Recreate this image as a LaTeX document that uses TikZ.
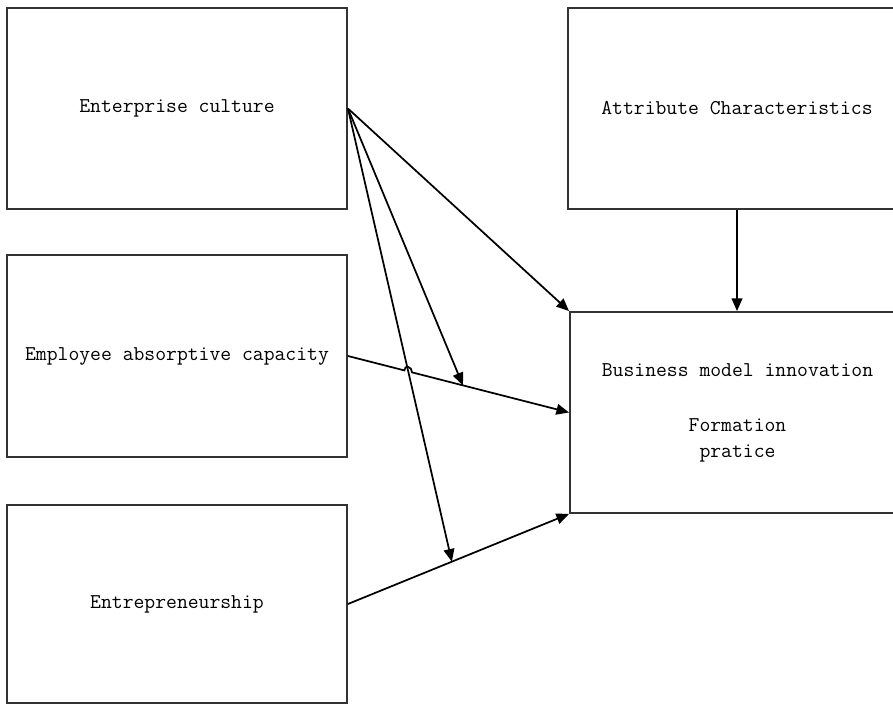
\documentclass[tikz,border=0pt]{standalone}
\usepackage{fontspec}
\usepackage{tikz}
\usetikzlibrary{arrows.meta,calc,intersections}

\begin{document}
\begin{tikzpicture}[x=0.75pt,y=-0.75pt,
  box/.style={draw=black!80, line width=1.4pt, inner sep=0pt, align=center,
    font=\ttfamily\fontsize{15.8}{19.5}\selectfont},
  link/.style={line width=1.3pt, -{Triangle[length=9.5pt,width=8pt]}}]
\useasboundingbox (0,0) rectangle (893,705);

% Draw the boxes
\node[box, minimum width=255pt, minimum height=150.75pt] (culture) at (177,108.5) {Enterprise culture};
\node[box, minimum width=253.5pt, minimum height=150.75pt] (attrib) at (737,108.5) {Attribute Characteristics};
\node[box, minimum width=255pt, minimum height=151.5pt] (absorb) at (177,356) {Employee absorptive capacity};
\node[box, minimum width=255pt, minimum height=148.5pt] (entre) at (177,604) {Entrepreneurship};
\node[box, minimum width=251.25pt, minimum height=150.75pt] (bmi) at (737.5,412.5)
  {Business model innovation\\[21.75pt]Formation\\pratice};

% Points where the moderating arrows land
\path (absorb.east) -- (bmi.west) coordinate[pos=0.52] (h1);
\path (entre.east) -- (bmi.south west) coordinate[pos=0.47] (h2);

% Crossing of the long arrow with the middle line
\path[name path=cross] (culture.east) -- (h2);
\path[name path=mid] (absorb.east) -- (bmi.west);
\path[name intersections={of=cross and mid, by=X}];

% Draw the arrows
\draw[link] (culture.east) -- (bmi.north west);
\draw[link] (culture.east) -- (h1);
\draw[link] (culture.east) -- (h2);
\draw[link] (absorb.east) -- ($(X)!3pt!(absorb.east)$)
  .. controls +(0,-6) and +(0,-6) .. ($(X)!3pt!(bmi.west)$) -- (bmi.west);
\draw[link] (entre.east) -- (bmi.south west);
\draw[link] (attrib.south) -- (bmi.north -| attrib.south);

\end{tikzpicture}
\end{document}
